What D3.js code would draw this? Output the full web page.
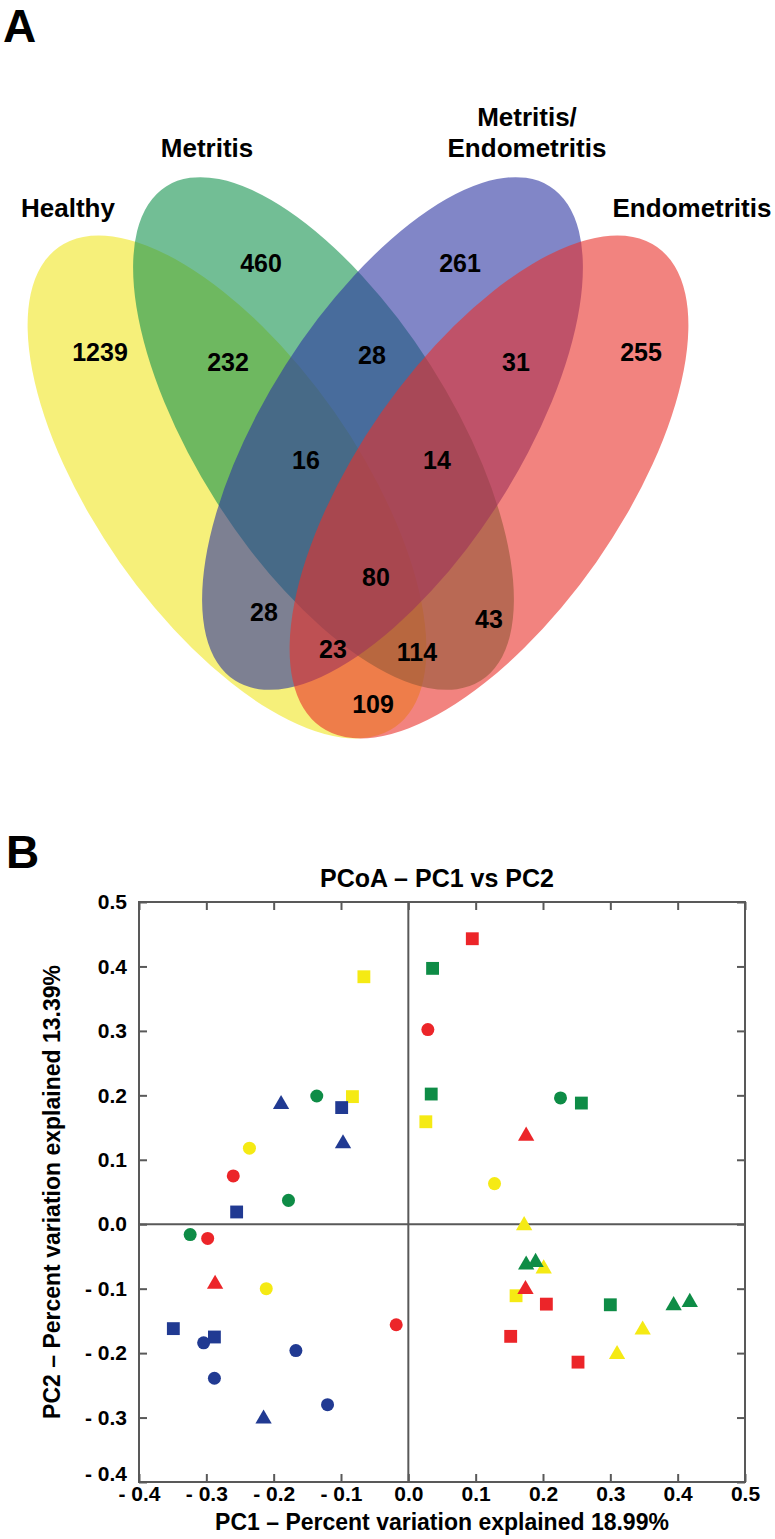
<!DOCTYPE html>
<html><head><meta charset="utf-8">
<script src="https://cdn.jsdelivr.net/npm/d3@7"></script>
<style>
body{margin:0;background:#fff}
svg{display:block}
text{font-family:"Liberation Sans",Arial,Helvetica,sans-serif;font-weight:bold;fill:#000}
</style>
</head><body>
<svg id="chart" width="775" height="1539"></svg>
<script>
// ---------------- DATA ----------------
// Panel A: Venn diagram
const vennSets = ["Healthy", "Metritis", "Metritis/Endometritis", "Endometritis"];
const vennSetLabelLines = [["Healthy"], ["Metritis"], ["Metritis/", "Endometritis"], ["Endometritis"]];
const vennRegionKeys = ["H", "M", "ME", "E", "H&M", "M&ME", "ME&E", "H&E", "H&M&ME", "M&ME&E", "H&M&ME&E", "H&ME", "M&E", "H&ME&E", "H&M&E"];
const vennCounts = [1239, 460, 261, 255, 232, 28, 31, 109, 16, 14, 80, 28, 43, 23, 114];

// Panel B: PCoA points, one set of arrays per group
const groupNames = ["Healthy", "Metritis", "Metritis/Endometritis", "Endometritis"];
const healthyPC1 = [-0.066, -0.083, -0.236, 0.026, 0.128, -0.211, 0.172, 0.201, 0.160, 0.348, 0.310];
const healthyPC2 = [0.384, 0.198, 0.118, 0.159, 0.063, -0.100, -0.002, -0.069, -0.111, -0.164, -0.202];
const healthyShape = ["square", "square", "circle", "square", "circle", "circle", "triangle", "triangle", "square", "triangle", "triangle"];

const metritisPC1 = [-0.136, 0.036, 0.034, 0.226, 0.257, -0.178, -0.324, 0.175, 0.189, 0.300, 0.394, 0.418];
const metritisPC2 = [0.199, 0.397, 0.202, 0.196, 0.188, 0.037, -0.016, -0.063, -0.059, -0.125, -0.126, -0.121];
const metritisShape = ["circle", "square", "square", "circle", "square", "circle", "circle", "triangle", "triangle", "square", "triangle", "triangle"];

const metEndoPC1 = [-0.189, -0.099, -0.097, -0.255, -0.349, -0.288, -0.304, -0.167, -0.288, -0.120, -0.215];
const metEndoPC2 = [0.186, 0.181, 0.125, 0.019, -0.162, -0.175, -0.184, -0.196, -0.239, -0.280, -0.302];
const metEndoShape = ["triangle", "square", "triangle", "square", "square", "square", "circle", "circle", "circle", "circle", "triangle"];

const endoPC1 = [0.095, 0.029, 0.175, -0.260, -0.298, -0.287, -0.018, 0.174, 0.205, 0.152, 0.252];
const endoPC2 = [0.443, 0.302, 0.137, 0.075, -0.022, -0.093, -0.156, -0.101, -0.124, -0.174, -0.214];
const endoShape = ["square", "circle", "triangle", "circle", "circle", "triangle", "circle", "triangle", "square", "square", "square"];

const pcTicks = [-0.4, -0.3, -0.2, -0.1, 0.0, 0.1, 0.2, 0.3, 0.4, 0.5];
const pcTickLabels = ["- 0.4", "- 0.3", "- 0.2", "- 0.1", "0.0", "0.1", "0.2", "0.3", "0.4", "0.5"];
const plotTitle = "PCoA \u2013 PC1 vs PC2";
const xTitle = "PC1 \u2013 Percent variation explained 18.99%";
const yTitle = "PC2 \u2013 Percent variation explained 13.39%";

// ---------------- LAYOUT / STYLE ----------------
const vennColors = ["#F0E621", "#14934E", "#2D36A2", "#E9302A"];
const vennOpacity = 0.6;
// ellipse geometry in pixels (layout)
const vennShapes = [
  {cx: 227, cy: 487, rx: 293, ry: 131, rot: 55},
  {cx: 323.5, cy: 433.5, rx: 293, ry: 127, rot: 57.5},
  {cx: 392.5, cy: 433.5, rx: 293, ry: 127, rot: -57.5},
  {cx: 489, cy: 487, rx: 293, ry: 131, rot: -55}
];
const vennSetLabelPos = [[68, 217], [207, 157], [527, 126], [692, 217]];
const vennCountPos = [[100, 352], [261, 263], [460, 263], [641, 352], [228, 362], [372, 355], [516, 362],
  [373, 704], [306, 460], [437, 460], [376, 577], [264, 612], [489, 619], [333, 649], [417, 652]];

const groupColors = ["#F5EA14", "#0E8C46", "#213A92", "#EC2529"];

const svg = d3.select("#chart");

// ---------------- PANEL A ----------------
svg.append("text").attr("x", 3).attr("y", 42).attr("font-size", 46).text("A");

const gV = svg.append("g");
gV.selectAll("ellipse").data(vennSets).join("ellipse")
  .attr("cx", (d, i) => vennShapes[i].cx)
  .attr("cy", (d, i) => vennShapes[i].cy)
  .attr("rx", (d, i) => vennShapes[i].rx)
  .attr("ry", (d, i) => vennShapes[i].ry)
  .attr("transform", (d, i) => `rotate(${vennShapes[i].rot},${vennShapes[i].cx},${vennShapes[i].cy})`)
  .attr("fill", (d, i) => vennColors[i])
  .attr("fill-opacity", vennOpacity);

gV.selectAll("text.count").data(vennCounts).join("text")
  .attr("class", "count")
  .attr("x", (d, i) => vennCountPos[i][0])
  .attr("y", (d, i) => vennCountPos[i][1])
  .attr("dy", "0.36em")
  .attr("text-anchor", "middle")
  .attr("font-size", 25)
  .text(d => d);

vennSetLabelLines.forEach((lines, i) => {
  lines.forEach((ln, j) => {
    gV.append("text")
      .attr("x", vennSetLabelPos[i][0])
      .attr("y", vennSetLabelPos[i][1] + j * 31)
      .attr("text-anchor", "middle")
      .attr("font-size", 26)
      .text(ln);
  });
});

// ---------------- PANEL B ----------------
svg.append("text").attr("x", 6).attr("y", 868).attr("font-size", 46).text("B");

const x = d3.scaleLinear().domain([-0.4, 0.5]).range([139, 745]);
const y = d3.scaleLinear().domain([-0.4, 0.5]).range([1482, 902]);
const axisColor = "#595959";
const tickLen = 8;

const gB = svg.append("g");

// zero lines
gB.append("line").attr("x1", x(-0.4)).attr("x2", x(0.5)).attr("y1", y(0)).attr("y2", y(0))
  .attr("stroke", axisColor).attr("stroke-width", 2);
gB.append("line").attr("x1", x(0)).attr("x2", x(0)).attr("y1", y(0.5)).attr("y2", y(-0.4))
  .attr("stroke", axisColor).attr("stroke-width", 2);

// frame
gB.append("rect").attr("x", x(-0.4)).attr("y", y(0.5))
  .attr("width", x(0.5) - x(-0.4)).attr("height", y(-0.4) - y(0.5))
  .attr("fill", "none").attr("stroke", axisColor).attr("stroke-width", 2);

const fmt = v => pcTickLabels[pcTicks.indexOf(v)];

// bottom axis with labels, inward ticks
const axB = gB.append("g").attr("transform", `translate(0,${y(-0.4)})`)
  .call(d3.axisBottom(x).tickValues(pcTicks).tickFormat(fmt).tickSize(-tickLen).tickPadding(4));
// left axis with labels, inward ticks
const axL = gB.append("g").attr("transform", `translate(${x(-0.4)},0)`)
  .call(d3.axisLeft(y).tickValues(pcTicks).tickFormat(fmt).tickSize(-tickLen).tickPadding(12));
// top and right ticks only
const axT = gB.append("g").attr("transform", `translate(0,${y(0.5)})`)
  .call(d3.axisTop(x).tickValues(pcTicks).tickFormat("").tickSize(-tickLen));
const axR = gB.append("g").attr("transform", `translate(${x(0.5)},0)`)
  .call(d3.axisRight(y).tickValues(pcTicks).tickFormat("").tickSize(-tickLen));

[axB, axL, axT, axR].forEach(a => {
  a.select(".domain").remove();
  a.selectAll(".tick line").attr("stroke", axisColor).attr("stroke-width", 2);
  a.selectAll(".tick text").attr("font-size", 21).attr("font-family", "Liberation Sans, Arial, sans-serif")
    .attr("font-weight", "bold").attr("fill", "#000");
});
// lift the lowest left label clear of the bottom-axis label
axL.selectAll(".tick text").filter(d => d === -0.4).attr("dy", "-0.05em");

// titles
gB.append("text").attr("x", 437).attr("y", 887).attr("text-anchor", "middle").attr("font-size", 25).text(plotTitle);
gB.append("text").attr("x", (x(-0.4) + x(0.5)) / 2).attr("y", 1530).attr("text-anchor", "middle").attr("font-size", 23).text(xTitle);
gB.append("text").attr("transform", `translate(60,${(y(0.5) + y(-0.4)) / 2}) rotate(-90)`)
  .attr("text-anchor", "middle").attr("font-size", 23).text(yTitle);

// points
const symbolTypes = {circle: d3.symbolCircle, square: d3.symbolSquare, triangle: d3.symbolTriangle};
const symbolSizes = {circle: 133, square: 165, triangle: 115};
const groupsData = [
  [healthyPC1, healthyPC2, healthyShape],
  [metritisPC1, metritisPC2, metritisShape],
  [metEndoPC1, metEndoPC2, metEndoShape],
  [endoPC1, endoPC2, endoShape]
];
groupsData.forEach(([xs, ys, shapes], gi) => {
  gB.append("g").attr("class", "grp-" + gi)
    .selectAll("path").data(xs.map((v, i) => ({pc1: v, pc2: ys[i], shape: shapes[i]}))).join("path")
    .attr("transform", d => `translate(${x(d.pc1)},${y(d.pc2)})`)
    .attr("d", d => d3.symbol().type(symbolTypes[d.shape]).size(symbolSizes[d.shape])())
    .attr("fill", groupColors[gi]);
});
</script>
</body></html>
